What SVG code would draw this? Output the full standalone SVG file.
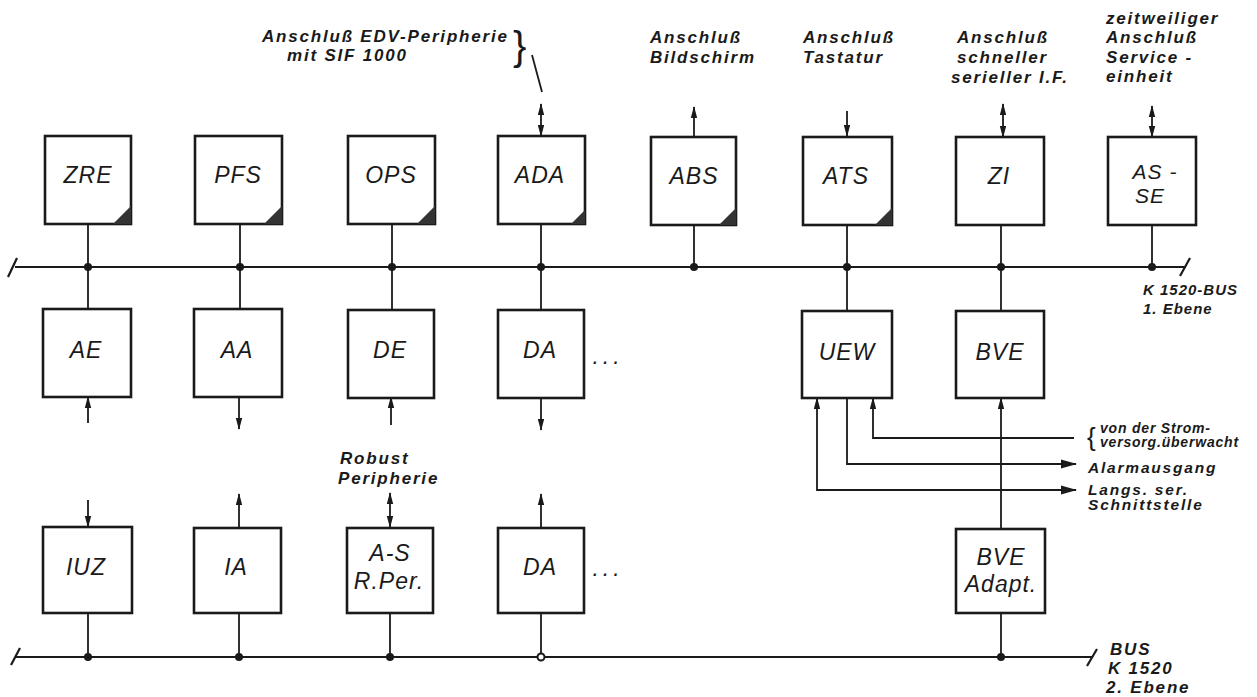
<svg xmlns="http://www.w3.org/2000/svg" width="1257" height="697" viewBox="0 0 1257 697">
<defs>
<style>
.box{fill:#fff;stroke:#1a1a1a;stroke-width:2.6}
.bl{font-family:"Liberation Sans",Arial,sans-serif;font-style:italic;font-size:23px;fill:#1a1a1a;text-anchor:middle;letter-spacing:1px}
.lb{font-family:"Liberation Sans",Arial,sans-serif;font-style:italic;font-weight:bold;font-size:17px;fill:#1a1a1a;letter-spacing:1.8px}
.ls{font-family:"Liberation Sans",Arial,sans-serif;font-style:italic;font-weight:bold;font-size:15.5px;fill:#1a1a1a;letter-spacing:1.8px}
.lt{font-family:"Liberation Sans",Arial,sans-serif;font-style:italic;font-weight:bold;font-size:14px;fill:#1a1a1a;letter-spacing:0.8px}
.ln{fill:none;stroke:#1a1a1a;stroke-width:1.8}
.bus{fill:none;stroke:#1a1a1a;stroke-width:2.2}
.dot{fill:#1a1a1a}
.tri{fill:#333}
</style>
<marker id="ah" viewBox="0 0 12 8" refX="11" refY="4" markerWidth="12" markerHeight="8" markerUnits="userSpaceOnUse" orient="auto-start-reverse"><path d="M0,0.8 L12,4 L0,7.2 z" fill="#1a1a1a"/></marker>
<marker id="ahb" viewBox="0 0 16 10" refX="15" refY="5" markerWidth="16" markerHeight="10" markerUnits="userSpaceOnUse" orient="auto-start-reverse"><path d="M0,0.5 L16,5 L0,9.5 z" fill="#1a1a1a"/></marker>
</defs>
<rect x="0" y="0" width="1257" height="697" fill="#fff"/>

<g id="connectors">
  <line class="bus" x1="15" y1="267" x2="1186" y2="267"/>
  <line class="bus" x1="8" y1="277" x2="17" y2="258"/>
  <line class="bus" x1="1180" y1="276" x2="1190" y2="258"/>
  <line class="bus" x1="16" y1="657" x2="1093" y2="657"/>
  <line class="bus" x1="11" y1="665" x2="20" y2="648"/>
  <line class="bus" x1="1087" y1="666" x2="1097" y2="649"/>
  <line class="ln" x1="88" y1="224" x2="88" y2="309"/>
  <line class="ln" x1="240" y1="224" x2="240" y2="309"/>
  <line class="ln" x1="392" y1="224" x2="392" y2="309"/>
  <line class="ln" x1="541" y1="224" x2="541" y2="309"/>
  <line class="ln" x1="694" y1="224" x2="694" y2="267"/>
  <line class="ln" x1="847" y1="224" x2="847" y2="311"/>
  <line class="ln" x1="1001" y1="224" x2="1001" y2="311"/>
  <line class="ln" x1="1152" y1="224" x2="1152" y2="267"/>
  <circle class="dot" cx="88" cy="267" r="4"/>
  <circle class="dot" cx="240" cy="267" r="4"/>
  <circle class="dot" cx="392" cy="267" r="4"/>
  <circle class="dot" cx="541" cy="267" r="4"/>
  <circle class="dot" cx="694" cy="267" r="4"/>
  <circle class="dot" cx="847" cy="267" r="4"/>
  <circle class="dot" cx="1001" cy="267" r="4"/>
  <circle class="dot" cx="1152" cy="267" r="4"/>
  <line class="ln" x1="88" y1="613" x2="88" y2="657"/>
  <line class="ln" x1="239" y1="613" x2="239" y2="657"/>
  <line class="ln" x1="390" y1="613" x2="390" y2="657"/>
  <line class="ln" x1="541" y1="613" x2="541" y2="657"/>
  <line class="ln" x1="1001" y1="613" x2="1001" y2="657"/>
  <circle class="dot" cx="88" cy="657" r="4"/>
  <circle class="dot" cx="239" cy="657" r="4"/>
  <circle class="dot" cx="390" cy="657" r="4"/>
  <circle cx="541" cy="657" r="3.5" fill="#fff" stroke="#1a1a1a" stroke-width="2"/>
  <circle class="dot" cx="1001" cy="657" r="4"/>
  <line class="ln" x1="541" y1="104" x2="541" y2="136" marker-start="url(#ah)" marker-end="url(#ah)"/>
  <line class="ln" x1="532" y1="55" x2="542" y2="92"/>
  <line class="ln" x1="694" y1="136" x2="694" y2="107" marker-end="url(#ah)"/>
  <line class="ln" x1="847" y1="111" x2="847" y2="136" marker-end="url(#ah)"/>
  <line class="ln" x1="1003" y1="104" x2="1003" y2="137" marker-start="url(#ah)" marker-end="url(#ah)"/>
  <line class="ln" x1="1152" y1="106" x2="1152" y2="137" marker-start="url(#ah)" marker-end="url(#ah)"/>
  <line class="ln" x1="88" y1="423" x2="88" y2="397" marker-end="url(#ah)"/>
  <line class="ln" x1="239" y1="397" x2="239" y2="429" marker-end="url(#ah)"/>
  <line class="ln" x1="391" y1="425" x2="391" y2="397" marker-end="url(#ah)"/>
  <line class="ln" x1="541" y1="397" x2="541" y2="430" marker-end="url(#ah)"/>
  <line class="ln" x1="88" y1="500" x2="88" y2="527" marker-end="url(#ah)"/>
  <line class="ln" x1="239" y1="527" x2="239" y2="494" marker-end="url(#ah)"/>
  <line class="ln" x1="390" y1="493" x2="390" y2="527" marker-start="url(#ah)" marker-end="url(#ah)"/>
  <line class="ln" x1="541" y1="527" x2="541" y2="494" marker-end="url(#ah)"/>
  <path class="ln" d="M1076,490 H817 V398" marker-start="url(#ahb)" marker-end="url(#ah)"/>
  <path class="ln" d="M847,398 V464 H1076" marker-end="url(#ahb)"/>
  <path class="ln" d="M1074,438 H873 V398" marker-end="url(#ah)"/>
  <line class="ln" x1="1001" y1="529" x2="1001" y2="398" marker-end="url(#ah)"/>
</g>

<g id="ZRE"><rect class="box" x="45" y="136" width="86" height="88"/><path class="tri" d="M113,224 L131,224 L131,206 z"/><text class="bl" x="88" y="183">ZRE</text></g>
<g id="PFS"><rect class="box" x="195" y="136" width="87" height="88"/><path class="tri" d="M264,224 L282,224 L282,206 z"/><text class="bl" x="238" y="183">PFS</text></g>
<g id="OPS"><rect class="box" x="348" y="136" width="87" height="88"/><path class="tri" d="M417,224 L435,224 L435,206 z"/><text class="bl" x="391" y="183">OPS</text></g>
<g id="ADA"><rect class="box" x="498" y="136" width="87" height="88"/><path class="tri" d="M571,224 L585,224 L585,210 z" fill="#777"/><text class="bl" x="540" y="183">ADA</text></g>
<g id="ABS"><rect class="box" x="651" y="137" width="85" height="88"/><path class="tri" d="M719,225 L736,225 L736,208 z"/><text class="bl" x="694" y="184">ABS</text></g>
<g id="ATS"><rect class="box" x="803" y="137" width="89" height="88"/><path class="tri" d="M875,225 L892,225 L892,208 z"/><text class="bl" x="846" y="184">ATS</text></g>
<g id="ZI"><rect class="box" x="956" y="137" width="88" height="88"/><text class="bl" x="999" y="184">ZI</text></g>
<g id="AS-SE"><rect class="box" x="1108" y="137" width="88" height="88"/><text class="bl" x="1155" y="179" style="font-size:21px">AS -</text><text class="bl" x="1150" y="203" style="font-size:21px">SE</text></g>

<g id="AE"><rect class="box" x="43" y="309" width="88" height="88"/><text class="bl" x="86" y="358">AE</text></g>
<g id="AA"><rect class="box" x="194" y="309" width="88" height="88"/><text class="bl" x="237" y="358">AA</text></g>
<g id="DE"><rect class="box" x="348" y="310" width="86" height="88"/><text class="bl" x="390" y="358">DE</text></g>
<g id="DA1"><rect class="box" x="498" y="310" width="86" height="88"/><text class="bl" x="540" y="358">DA</text><text class="bl" x="608" y="364" style="letter-spacing:4px">...</text></g>
<g id="UEW"><rect class="box" x="802" y="311" width="90" height="87"/><text class="bl" x="847" y="360">UEW</text></g>
<g id="BVE"><rect class="box" x="956" y="311" width="88" height="87"/><text class="bl" x="1000" y="360">BVE</text></g>

<g id="IUZ"><rect class="box" x="43" y="527" width="89" height="86"/><text class="bl" x="86" y="575">IUZ</text></g>
<g id="IA"><rect class="box" x="194" y="528" width="87" height="85"/><text class="bl" x="236" y="575">IA</text></g>
<g id="A-S"><rect class="box" x="347" y="528" width="86" height="85"/><text class="bl" x="390" y="561">A-S</text><text class="bl" x="389" y="589">R.Per.</text></g>
<g id="DA2"><rect class="box" x="498" y="528" width="86" height="85"/><text class="bl" x="540" y="575">DA</text><text class="bl" x="608" y="576" style="letter-spacing:4px">...</text></g>
<g id="BVE-Adapt"><rect class="box" x="956" y="529" width="89" height="84"/><text class="bl" x="1001" y="565">BVE</text><text class="bl" x="1001" y="592">Adapt.</text></g>

<g id="labels">
  <text class="lb" x="262" y="42">Anschluß EDV-Peripherie</text>
  <text class="lb" x="287" y="61">mit SIF 1000</text>
  <text x="513" y="60" font-family="Liberation Sans, sans-serif" font-size="40" fill="#1a1a1a">}</text>
  <text class="lb" x="650" y="43">Anschluß</text>
  <text class="lb" x="650" y="63">Bildschirm</text>
  <text class="lb" x="803" y="43">Anschluß</text>
  <text class="lb" x="803" y="63">Tastatur</text>
  <text class="lb" x="957" y="43">Anschluß</text>
  <text class="lb" x="957" y="63">schneller</text>
  <text class="lb" x="951" y="83">serieller I.F.</text>
  <text class="lb" x="1106" y="24">zeitweiliger</text>
  <text class="lb" x="1106" y="43">Anschluß</text>
  <text class="lb" x="1106" y="63">Service -</text>
  <text class="lb" x="1106" y="82">einheit</text>
  <text class="lb" x="340" y="464">Robust</text>
  <text class="lb" x="338" y="484">Peripherie</text>
  <text class="ls" x="1143" y="295" style="font-size:15px;letter-spacing:1px">K 1520-BUS</text>
  <text class="ls" x="1143" y="314" style="font-size:15px;letter-spacing:1px">1. Ebene</text>
  <text x="1087" y="446" font-family="Liberation Sans, sans-serif" font-size="26" fill="#1a1a1a">{</text>
  <text class="lt" x="1100" y="433">von der Strom-</text>
  <text class="lt" x="1100" y="447">versorg.überwacht</text>
  <text class="ls" x="1088" y="473">Alarmausgang</text>
  <text class="ls" x="1088" y="495">Langs. ser.</text>
  <text class="ls" x="1088" y="510">Schnittstelle</text>
  <text class="lb" x="1110" y="655">BUS</text>
  <text class="lb" x="1108" y="674">K 1520</text>
  <text class="lb" x="1106" y="693">2. Ebene</text>
</g>
</svg>
